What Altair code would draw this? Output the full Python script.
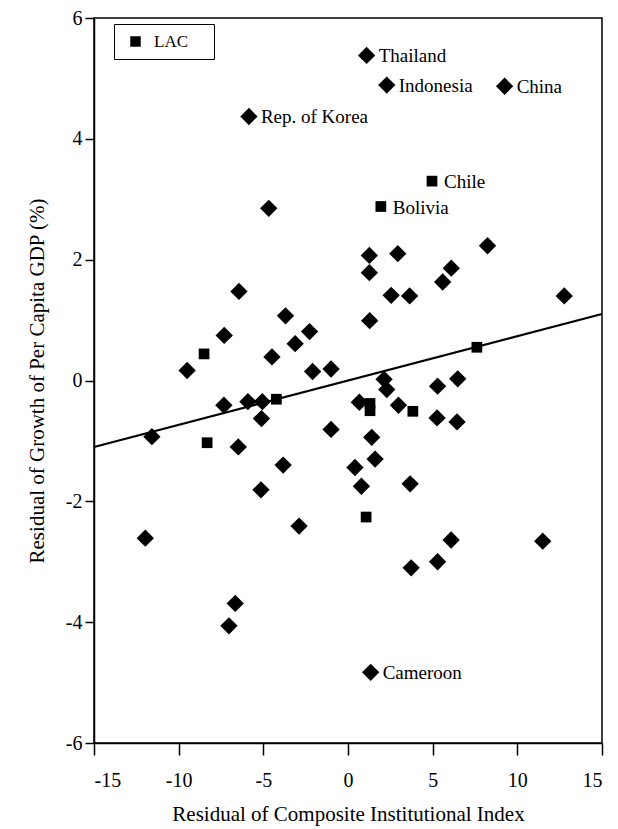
import altair as alt
import pandas as pd

# Countries outside Latin America and the Caribbean (diamonds)
other_x = [1.10, 2.29, 9.25, -5.85, 1.34,
           -4.68, -6.44, -3.69, -7.31, -2.27, -3.12, -4.49, -9.50, -2.09, -1.00,
           1.26, 2.94, 1.26, 8.24, 6.10, 5.59, 2.55, 3.64, 12.77, 1.28,
           2.13, 2.29, 5.29, 6.48, 0.67, 2.98, 5.26, 6.44, 1.40, 1.60,
           0.41, 0.79, 3.67, 6.09, 11.50, 5.29, 3.73,
           -7.33, -5.91, -5.06, -5.11, -11.58, -6.48, -1.00, -3.83, -5.14,
           -2.89, -11.97, -6.66, -7.03]
other_y = [5.38, 4.89, 4.87, 4.37, -4.83,
           2.85, 1.475, 1.07, 0.746, 0.81, 0.61, 0.39, 0.166, 0.149, 0.19,
           2.07, 2.10, 1.785, 2.23, 1.86, 1.63, 1.41, 1.40, 1.40, 0.99,
           0.02, -0.15, -0.094, 0.028, -0.36, -0.41, -0.62, -0.685, -0.94, -1.30,
           -1.44, -1.75, -1.71, -2.64, -2.66, -3.00, -3.10,
           -0.41, -0.35, -0.35, -0.63, -0.93, -1.10, -0.81, -1.40, -1.81,
           -2.41, -2.61, -3.69, -4.06]
other_name = ["Thailand", "Indonesia", "China", "Rep. of Korea", "Cameroon"] + [""] * 50

# Latin America and the Caribbean (squares)
lac_x = [4.96, 1.94, -8.50, -8.32, -4.23, 1.30, 1.30, 3.83, 1.07, 7.61]
lac_y = [3.30, 2.88, 0.44, -1.03, -0.31, -0.38, -0.50, -0.51, -2.26, 0.55]
lac_name = ["Chile", "Bolivia", "", "", "", "", "", "", "", ""]

# Fitted line end points
fit_x = [-15, 15]
fit_y = [-1.10, 1.10]

# Axis ticks
x_ticks = [-15, -10, -5, 0, 5, 10, 15]
y_ticks = [-6, -4, -2, 0, 2, 4, 6]

others = pd.DataFrame({"x": other_x, "y": other_y, "name": other_name, "group": "Other"})
lac = pd.DataFrame({"x": lac_x, "y": lac_y, "name": lac_name, "group": "LAC"})
fit = pd.DataFrame({"x": fit_x, "y": fit_y})
labeled = pd.concat([others, lac])
labeled = labeled[labeled["name"] != ""]

FONT = "Liberation Serif"
# blank padding after the legend label (ends in a non-whitespace blank so it is not trimmed)
LEGEND_PAD = "\u00a0" + "\u2800"

xs = alt.Scale(domain=[-15, 15], nice=False, zero=False)
ys = alt.Scale(domain=[-6, 6], nice=False, zero=False)

x_axis = alt.Axis(values=x_ticks, title="Residual of Composite Institutional Index",
                  labelExpr="'' + datum.value", labelFontSize=20,
                  tickSize=12, labelPadding=15, titlePadding=13, titleFontSize=21)
y_axis = alt.Axis(values=y_ticks, title="Residual of Growth of Per Capita GDP (%)",
                  labelExpr="'' + datum.value", labelFontSize=20,
                  tickSize=9, labelPadding=3, titlePadding=18, titleFontSize=21)

line = alt.Chart(fit).mark_line(color="black", strokeWidth=2.2).encode(
    x=alt.X("x:Q", scale=xs, axis=x_axis),
    y=alt.Y("y:Q", scale=ys, axis=y_axis),
)

diamonds = alt.Chart(others).mark_point(shape="diamond", filled=True, color="black", size=300, opacity=1).encode(
    x=alt.X("x:Q", scale=xs),
    y=alt.Y("y:Q", scale=ys),
)

squares = alt.Chart(lac).mark_point(filled=True, color="black", size=115, opacity=1).encode(
    x=alt.X("x:Q", scale=xs),
    y=alt.Y("y:Q", scale=ys),
    shape=alt.Shape("group:N", scale=alt.Scale(domain=["LAC"], range=["square"]),
                    legend=alt.Legend(title=None, orient="none", legendX=20, legendY=6,
                                      fillColor="white", strokeColor="black", padding=9,
                                      symbolOffset=4, labelOffset=10, symbolSize=110,
                                      symbolFillColor="black", symbolStrokeWidth=0,
                                      labelFont=FONT, labelFontSize=17, labelColor="black",
                                      labelExpr="datum.label + '" + LEGEND_PAD + "'")),
)

labels = alt.Chart(labeled).mark_text(align="left", baseline="middle", dx=12, dy=1,
                                      font=FONT, fontSize=19, color="black").encode(
    x=alt.X("x:Q", scale=xs),
    y=alt.Y("y:Q", scale=ys),
    text="name:N",
)

chart = alt.layer(line, diamonds, squares, labels).properties(
    width=508, height=725,
    background="white",
    autosize=alt.AutoSizeParams(type="none"),
    padding={"left": 94, "top": 18, "right": 16, "bottom": 86},
).configure_view(
    stroke="black", strokeWidth=1.5,
).configure_axis(
    grid=False, domainColor="black", domainWidth=1.5, tickColor="black", tickWidth=1.5,
    labelFont=FONT, labelColor="black",
    titleFont=FONT, titleFontWeight="normal", titleColor="black",
)

chart.save("out.html", embed_options={"renderer": "svg", "actions": False})
